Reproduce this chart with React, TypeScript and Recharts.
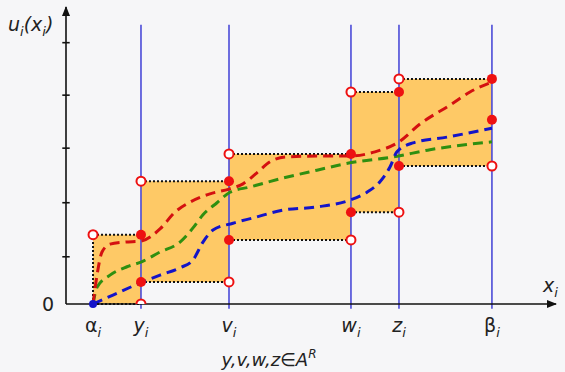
import {
  ComposedChart,
  Line,
  ReferenceArea,
  ReferenceDot,
  ReferenceLine,
  Scatter,
  XAxis,
  YAxis,
} from "recharts";

// knot positions on the x axis: α, y, v, w, z, β
const knots = [5.47, 15.18, 33.0, 57.69, 67.41, 86.23];
const knotLabels = [
  { main: "α", sub: "i", italic: false },
  { main: "y", sub: "i", italic: true },
  { main: "v", sub: "i", italic: true },
  { main: "w", sub: "i", italic: true },
  { main: "z", sub: "i", italic: true },
  { main: "β", sub: "i", italic: false },
];

// lower / upper bound of each step band (between consecutive knots)
const stepLow = [0, 0.42, 1.22, 1.75, 2.63];
const stepHigh = [1.32, 2.34, 2.86, 4.04, 4.29];
const extraDotY = 3.51;

const yTicks = [0.9, 1.93, 2.97, 3.98, 4.98];
const X_MAX = 99.2;
const Y_MAX = 5.66;

const redCurve = [
  { x: 5.47, y: 0 },
  { x: 6.28, y: 0.55 },
  { x: 7.29, y: 0.99 },
  { x: 8.91, y: 1.14 },
  { x: 11.94, y: 1.18 },
  { x: 15.18, y: 1.2 },
  { x: 19.03, y: 1.43 },
  { x: 22.06, y: 1.75 },
  { x: 25.1, y: 1.94 },
  { x: 29.15, y: 2.1 },
  { x: 33.0, y: 2.19 },
  { x: 35.83, y: 2.29 },
  { x: 38.66, y: 2.5 },
  { x: 41.3, y: 2.71 },
  { x: 44.33, y: 2.8 },
  { x: 51.4, y: 2.82 },
  { x: 57.69, y: 2.82 },
  { x: 62.55, y: 2.9 },
  { x: 67.41, y: 3.09 },
  { x: 71.66, y: 3.43 },
  { x: 77.73, y: 3.79 },
  { x: 81.78, y: 4.04 },
  { x: 86.23, y: 4.23 },
];

const greenCurve = [
  { x: 5.47, y: 0 },
  { x: 6.28, y: 0.32 },
  { x: 8.91, y: 0.55 },
  { x: 12.35, y: 0.71 },
  { x: 15.18, y: 0.8 },
  { x: 19.03, y: 0.99 },
  { x: 23.08, y: 1.18 },
  { x: 25.71, y: 1.45 },
  { x: 27.73, y: 1.7 },
  { x: 30.57, y: 1.93 },
  { x: 33.2, y: 2.13 },
  { x: 37.25, y: 2.23 },
  { x: 43.93, y: 2.4 },
  { x: 50.81, y: 2.55 },
  { x: 57.49, y: 2.69 },
  { x: 66.19, y: 2.8 },
  { x: 73.68, y: 2.94 },
  { x: 80.36, y: 3.03 },
  { x: 86.23, y: 3.09 },
];

const blueCurve = [
  { x: 5.47, y: 0 },
  { x: 9.51, y: 0.17 },
  { x: 14.98, y: 0.4 },
  { x: 19.03, y: 0.55 },
  { x: 23.08, y: 0.69 },
  { x: 25.71, y: 0.84 },
  { x: 27.73, y: 1.18 },
  { x: 29.76, y: 1.41 },
  { x: 33.81, y: 1.54 },
  { x: 37.85, y: 1.64 },
  { x: 43.93, y: 1.79 },
  { x: 50.81, y: 1.85 },
  { x: 57.49, y: 1.98 },
  { x: 60.93, y: 2.13 },
  { x: 63.56, y: 2.33 },
  { x: 65.59, y: 2.61 },
  { x: 67.0, y: 2.9 },
  { x: 70.24, y: 3.07 },
  { x: 77.13, y: 3.18 },
  { x: 86.23, y: 3.35 },
];

const FONT = "'DejaVu Sans', sans-serif";
const BAND = "#fec966";
const VLINE = "#4b4bd8";
const RED = "#ee1111";

// dots at band corners: top-left open, top-right filled, bottom-left filled, bottom-right open
const filledDots: { x: number; y: number }[] = [];
const openDots: { x: number; y: number }[] = [];
stepLow.forEach((lo, i) => {
  openDots.push({ x: knots[i], y: stepHigh[i] });
  filledDots.push({ x: knots[i + 1], y: stepHigh[i] });
  if (i > 0) filledDots.push({ x: knots[i], y: lo });
  openDots.push({ x: knots[i + 1], y: lo });
});
filledDots.push({ x: knots[5], y: extraDotY });

const FilledDot = (p: any) => <circle cx={p.cx} cy={p.cy} r={5} fill={RED} />;
const OpenDot = (p: any) => (
  <circle cx={p.cx} cy={p.cy} r={4.5} fill="#fff" stroke={RED} strokeWidth={2} />
);

const XTick = (p: any) => {
  const idx = knots.indexOf(p.payload.value);
  const l = knotLabels[idx];
  if (!l) return null;
  return (
    <text x={p.x} y={p.y + 20} textAnchor="middle" fontFamily={FONT} fill="#222">
      <tspan fontSize={19} fontStyle={l.italic ? "italic" : "normal"}>
        {l.main}
      </tspan>
      <tspan fontSize={13} fontStyle="italic" dy={5}>
        {l.sub}
      </tspan>
    </text>
  );
};

const YTick = (p: any) => (
  <text x={p.x - 4} y={p.y + 7} textAnchor="end" fontFamily={FONT} fontSize={19} fill="#222">
    0
  </text>
);

const YTitle = (p: any) => {
  const vb = p.viewBox;
  return (
    <text x={vb.x + 2} y={vb.y + 24} fontFamily={FONT} fill="#222" fontStyle="italic">
      <tspan fontSize={19}>u</tspan>
      <tspan fontSize={13} dy={5}>i</tspan>
      <tspan fontSize={19} dy={-5}>(x</tspan>
      <tspan fontSize={13} dy={5}>i</tspan>
      <tspan fontSize={19} dy={-5}>)</tspan>
    </text>
  );
};

const XTitle = (p: any) => {
  const vb = p.viewBox;
  return (
    <g fontFamily={FONT} fill="#222">
      <text x={vb.x + vb.width - 13} y={vb.y - 12} fontStyle="italic">
        <tspan fontSize={19}>x</tspan>
        <tspan fontSize={13} dy={5}>i</tspan>
      </text>
      <text x={269} y={366} textAnchor="middle" fontStyle="italic">
        <tspan fontSize={18}>y,v,w,z</tspan>
        <tspan fontSize={18} fontStyle="normal">∈</tspan>
        <tspan fontSize={18}>A</tspan>
        <tspan fontSize={12} dy={-8}>R</tspan>
      </text>
    </g>
  );
};

const ArrowRight = (p: any) => (
  <path d={`M${p.cx + 1},${p.cy} L${p.cx - 9},${p.cy - 4} L${p.cx - 9},${p.cy + 4} Z`} fill="#111" />
);
const ArrowUp = (p: any) => (
  <path d={`M${p.cx},${p.cy - 1} L${p.cx - 4},${p.cy + 9} L${p.cx + 4},${p.cy + 9} Z`} fill="#111" />
);

export default function App() {
  return (
    <div style={{ position: "absolute", left: 0, top: 0, width: 565, height: 372, background: "#f6f6f8" }}>
      <ComposedChart width={565} height={372} margin={{ top: 7, right: 9, bottom: 38, left: 6 }}>
        <XAxis
          type="number"
          dataKey="x"
          domain={[0, X_MAX]}
          ticks={knots}
          tick={<XTick />}
          tickLine={false}
          axisLine={{ stroke: "#111", strokeWidth: 1.6 }}
          height={30}
          allowDataOverflow
          label={XTitle}
        />
        <YAxis
          type="number"
          dataKey="y"
          domain={[0, Y_MAX]}
          ticks={[0]}
          tick={<YTick />}
          tickLine={false}
          axisLine={{ stroke: "#111", strokeWidth: 1.6 }}
          width={60}
          allowDataOverflow
          label={YTitle}
        />

        {stepLow.map((lo, i) => (
          <ReferenceArea
            key={`band-${i}`}
            x1={knots[i]}
            x2={knots[i + 1]}
            y1={lo}
            y2={stepHigh[i]}
            fill={BAND}
            fillOpacity={1}
            stroke="none"
          />
        ))}

        {knots.slice(1).map((k) => (
          <ReferenceLine
            key={`v-${k}`}
            segment={[
              { x: k, y: -0.09 },
              { x: k, y: 5.32 },
            ]}
            stroke={VLINE}
            strokeWidth={1.6}
            ifOverflow="visible"
          />
        ))}

        {stepLow.map((lo, i) => [
          <ReferenceLine
            key={`top-${i}`}
            segment={[
              { x: knots[i], y: stepHigh[i] },
              { x: knots[i + 1], y: stepHigh[i] },
            ]}
            stroke="#111"
            strokeWidth={2}
            strokeDasharray="2 2"
          />,
          <ReferenceLine
            key={`bot-${i}`}
            segment={[
              { x: knots[i], y: lo },
              { x: knots[i + 1], y: lo },
            ]}
            stroke="#111"
            strokeWidth={2}
            strokeDasharray="2 2"
          />,
        ])}
        <ReferenceLine
          segment={[
            { x: knots[0], y: 0 },
            { x: knots[0], y: stepHigh[0] },
          ]}
          stroke="#111"
          strokeWidth={2}
          strokeDasharray="2 2"
        />

        {yTicks.map((t) => (
          <ReferenceLine
            key={`yt-${t}`}
            segment={[
              { x: -0.75, y: t },
              { x: 0.75, y: t },
            ]}
            stroke="#111"
            strokeWidth={1.6}
            ifOverflow="visible"
          />
        ))}

        <Line data={greenCurve} dataKey="y" type="monotone" stroke="#2f8f10" strokeWidth={3} strokeDasharray="10 6" dot={false} isAnimationActive={false} />
        <Line data={blueCurve} dataKey="y" type="monotone" stroke="#1414c8" strokeWidth={3} strokeDasharray="10 6" dot={false} isAnimationActive={false} />
        <Line data={redCurve} dataKey="y" type="monotone" stroke="#d41010" strokeWidth={3} strokeDasharray="10 6" dot={false} isAnimationActive={false} />

        <Scatter data={openDots} shape={OpenDot} isAnimationActive={false} />
        <Scatter data={filledDots} shape={FilledDot} isAnimationActive={false} />
        <ReferenceDot x={knots[0]} y={0} r={4} fill="#1414c8" stroke="none" />

        <ReferenceDot x={X_MAX} y={0} shape={ArrowRight} ifOverflow="visible" />
        <ReferenceDot x={0} y={Y_MAX} shape={ArrowUp} ifOverflow="visible" />
      </ComposedChart>
    </div>
  );
}
